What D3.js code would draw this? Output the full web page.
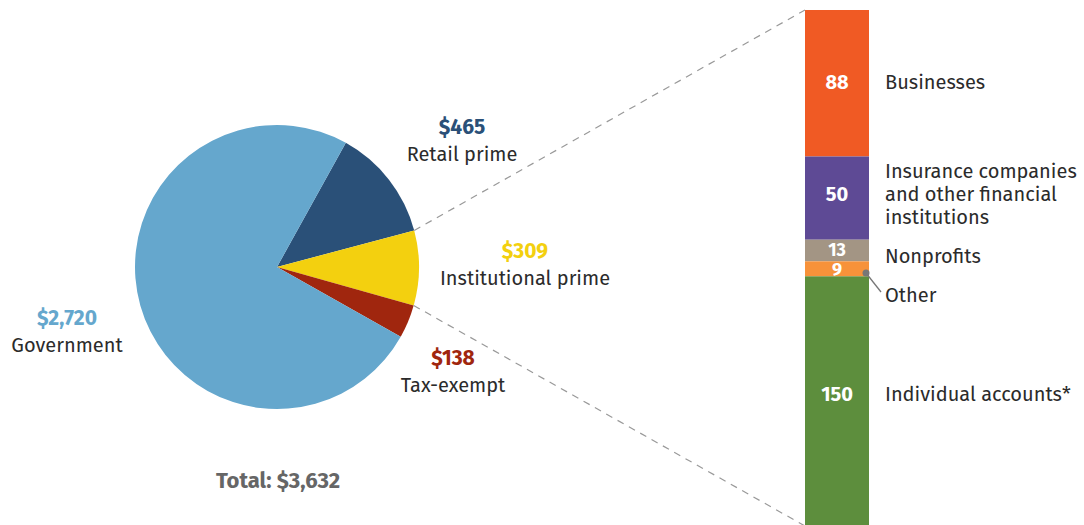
<!DOCTYPE html>
<html lang="en">
<head>
<meta charset="UTF-8">
<title>Money market funds</title>
<style>
  body { margin: 0; background: #fff; }
  svg text { font-family: "Fira Sans", Roboto, "Noto Sans", sans-serif; }
</style>
</head>
<body>
<svg id="chart" width="1084" height="525"></svg>
<script src="https://d3js.org/d3.v7.min.js"></script>
<script>
// pie: fund types (billions)
var fundTypes = ["Retail prime", "Institutional prime", "Tax-exempt", "Government"];
var fundValues = [465, 309, 138, 2720];
var fundColors = ["#2a5078", "#f3d00f", "#a0260e", "#65a7cd"];

// bar: holders of institutional prime
var holders = ["Businesses", "Insurance companies\nand other financial\ninstitutions", "Nonprofits", "Other", "Individual accounts*"];
var holderValues = [88, 50, 13, 9, 150];
var holderColors = ["#f05a24", "#5e4a95", "#a39584", "#f7923a", "#5d8e3d"];

var svg = d3.select("#chart");

var cx = 277, cy = 267, r = 142;
var start = 29 * Math.PI / 180;

var pie = d3.pie().sort(null).startAngle(start).endAngle(start + 2 * Math.PI);
var arcs = pie(fundValues);
var arc = d3.arc().innerRadius(0).outerRadius(r);

var g = svg.append("g").attr("transform", "translate(" + cx + "," + cy + ")");
g.selectAll("path")
  .data(arcs)
  .enter().append("path")
  .attr("d", arc)
  .attr("fill", (d, i) => fundColors[i]);

// stacked bar
var barX = 805, barW = 64;
var total = d3.sum(holderValues);
var y = d3.scaleLinear().domain([0, total]).range([10, 526]);
var cum = d3.cumsum(holderValues);
var segs = holderValues.map((v, i) => ({ v: v, y0: cum[i] - v, y1: cum[i], i: i }));

svg.selectAll("rect.seg")
  .data(segs)
  .enter().append("rect")
  .attr("class", "seg")
  .attr("x", barX)
  .attr("y", d => y(d.y0))
  .attr("width", barW)
  .attr("height", d => y(d.y1) - y(d.y0))
  .attr("fill", d => holderColors[d.i]);

// dashed connectors from institutional prime slice to bar
var inst = arcs[1];
function edge(a) {
  return [cx + r * Math.sin(a), cy - r * Math.cos(a)];
}
var p0 = edge(inst.startAngle), p1 = edge(inst.endAngle);
[[p0, [barX, y(0)]], [p1, [barX, y(total)]]].forEach(function (l) {
  svg.append("line")
    .attr("x1", l[0][0]).attr("y1", l[0][1])
    .attr("x2", l[1][0]).attr("y2", l[1][1])
    .attr("stroke", "#999")
    .attr("stroke-width", 1.2)
    .attr("stroke-dasharray", "7,6");
});

// bar values inside segments (small segments use a smaller size)
var valueBase = [89, 201, 256, 276, 401];
var valueSize = [20, 20, 18, 18, 20];
svg.selectAll("text.bv")
  .data(segs)
  .enter().append("text")
  .attr("class", "bv")
  .attr("x", barX + barW / 2)
  .attr("y", d => valueBase[d.i])
  .attr("text-anchor", "middle")
  .attr("font-size", d => valueSize[d.i])
  .attr("font-weight", "bold")
  .attr("fill", "#fff")
  .text(d => d.v);

// bar labels
var labelBase = [89, 178, 263, 302, 401];
holders.forEach(function (h, i) {
  var t = svg.append("text")
    .attr("x", 885)
    .attr("y", labelBase[i])
    .attr("font-size", 20)
    .attr("fill", "#2b2b2b");
  h.split("\n").forEach(function (line, k) {
    t.append("tspan").attr("x", 885).attr("dy", k === 0 ? 0 : 23).text(line);
  });
});

// leader for "Other"
svg.append("line")
  .attr("x1", 866).attr("y1", 273).attr("x2", 881).attr("y2", 292)
  .attr("stroke", "#777").attr("stroke-width", 1.3);
svg.append("circle").attr("cx", 866).attr("cy", 273).attr("r", 3.5).attr("fill", "#777");

// pie labels
var pieLabelPos = [[462, 134], [525, 258], [453, 365], [67, 325]];
var fmt = d3.format("$,");
fundTypes.forEach(function (f, i) {
  var p = pieLabelPos[i];
  svg.append("text")
    .attr("x", p[0]).attr("y", p[1])
    .attr("text-anchor", "middle")
    .attr("font-size", 21)
    .attr("font-weight", "bold")
    .attr("fill", fundColors[i])
    .text(fmt(fundValues[i]));
  svg.append("text")
    .attr("x", p[0]).attr("y", p[1] + 27)
    .attr("text-anchor", "middle")
    .attr("font-size", 20)
    .attr("fill", "#2b2b2b")
    .text(f);
});

svg.append("text")
  .attr("x", 278).attr("y", 488)
  .attr("text-anchor", "middle")
  .attr("font-size", 22)
  .attr("font-weight", "bold")
  .attr("fill", "#666")
  .text("Total: " + fmt(d3.sum(fundValues)));
</script>
</body>
</html>
